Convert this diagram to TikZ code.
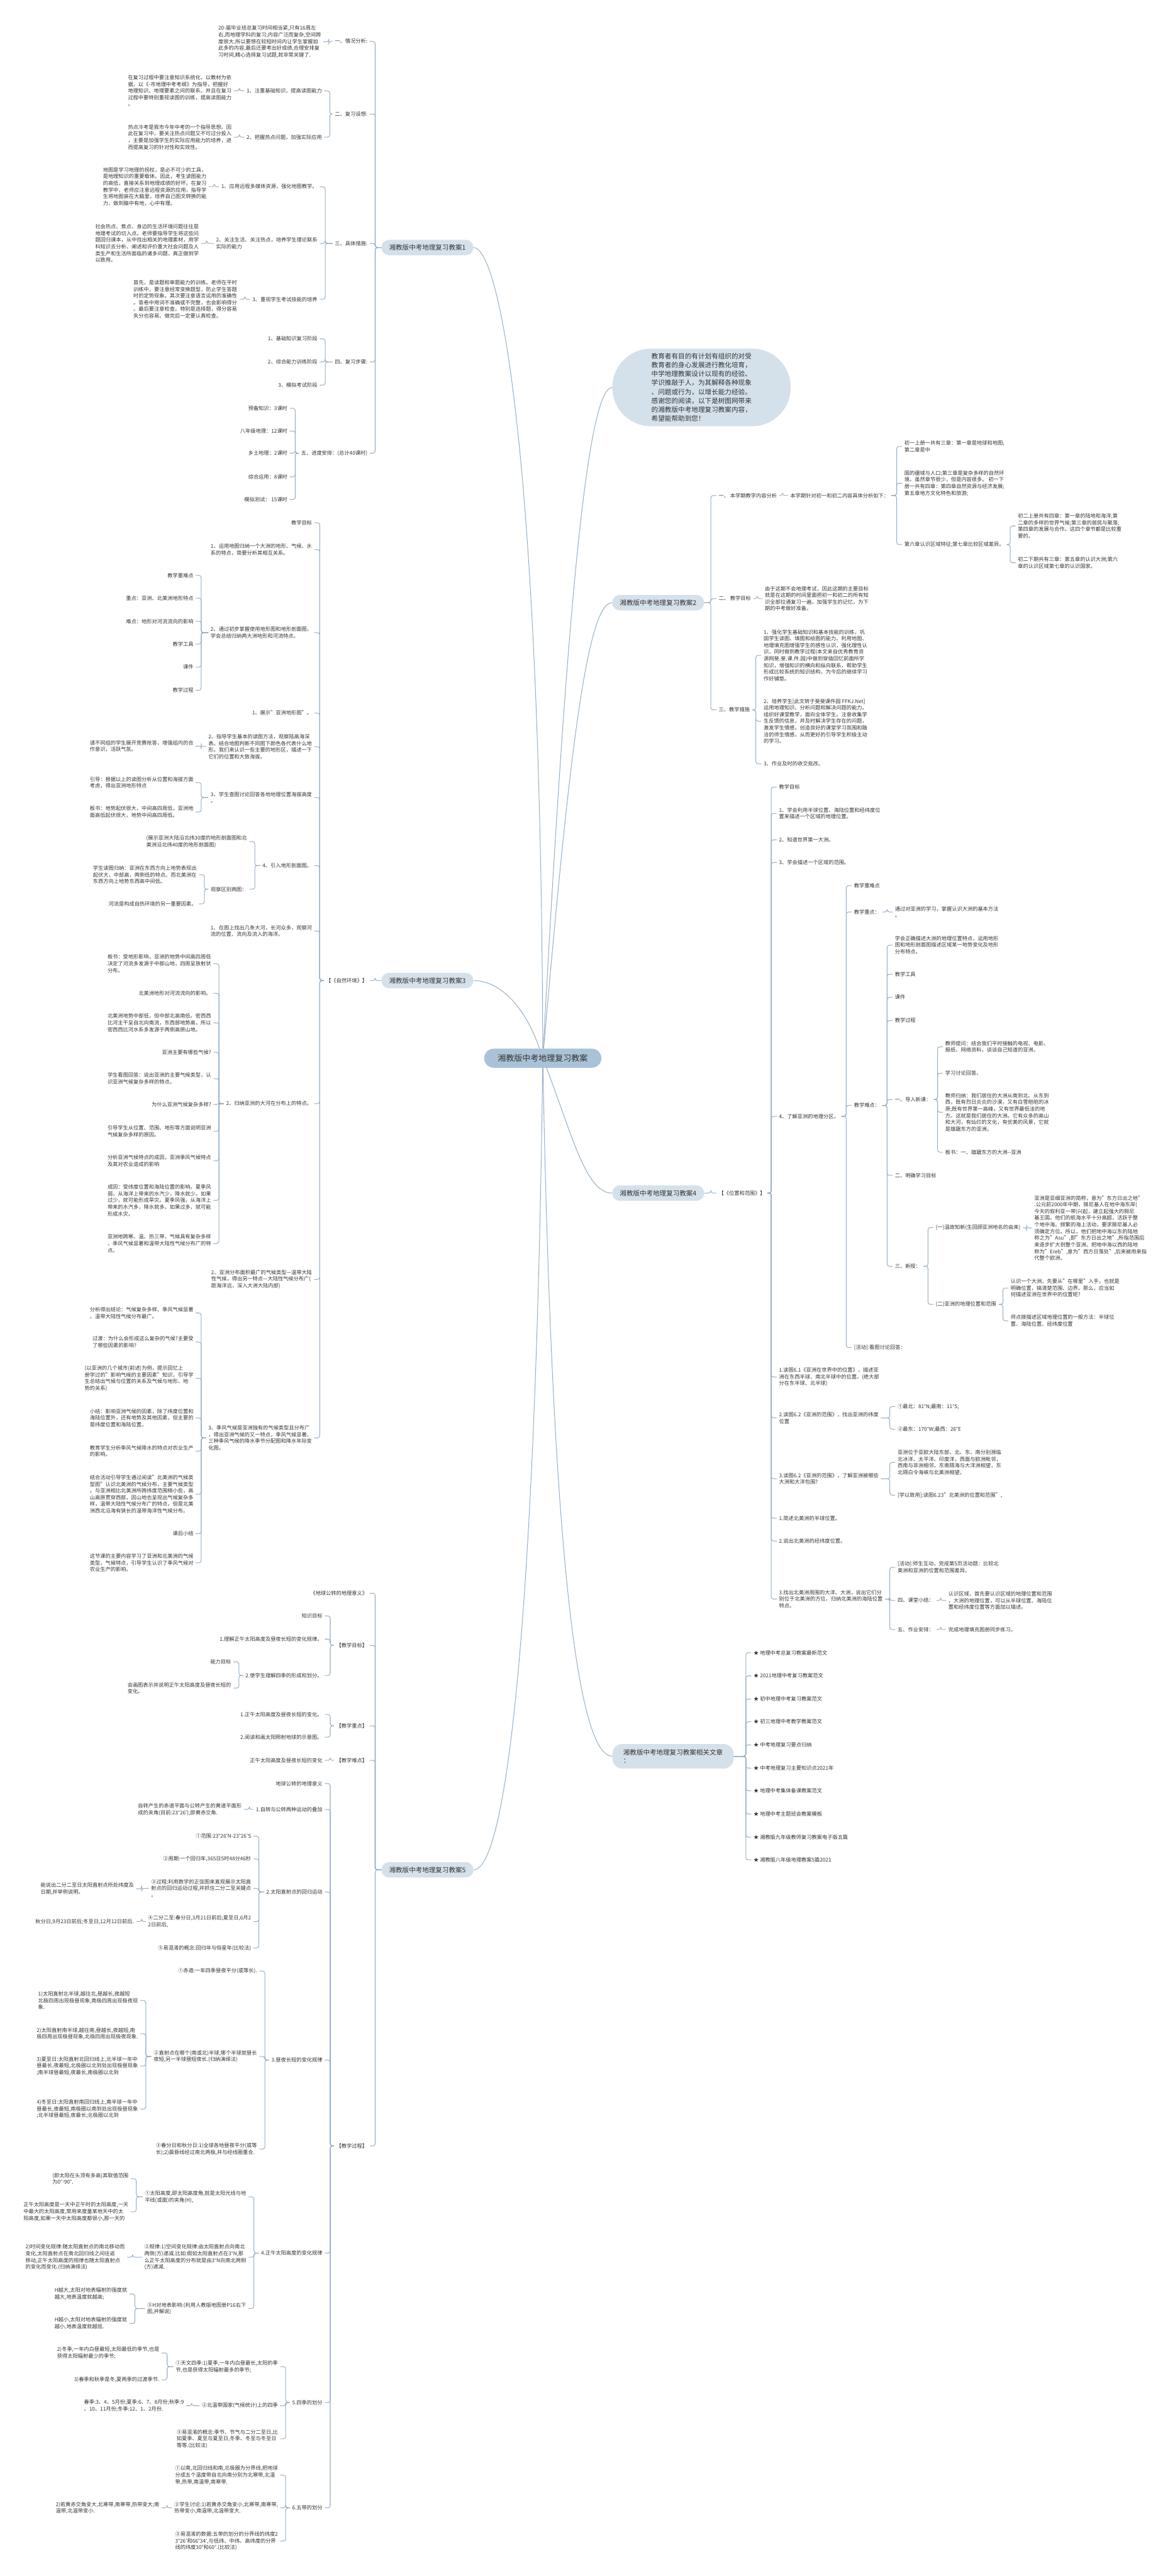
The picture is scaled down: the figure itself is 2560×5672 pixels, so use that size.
\documentclass[tikz,border=0pt]{standalone}
\usepackage{fontspec}
\setmainfont{Noto Sans CJK SC}
\usetikzlibrary{calc,backgrounds}

\definecolor{linkc}{HTML}{94AFC6}
\definecolor{topicc}{HTML}{D5E1EA}
\definecolor{rootc}{HTML}{A9C2D7}
\definecolor{inkc}{HTML}{333333}

\tikzset{
  leaf/.style={font=\fontsize{11.4}{14.7}\selectfont, text=inkc, inner xsep=5pt, inner ysep=2pt, align=left},
  lf/.style={leaf, anchor=east},
  rt/.style={leaf, anchor=west},
  topic/.style={fill=topicc, rounded corners=17pt, minimum height=34pt, inner xsep=17pt,
    font=\fontsize{14.6}{18}\selectfont, text=inkc, align=left},
  root/.style={fill=rootc, rounded corners=21pt, minimum height=42pt, inner xsep=30pt,
    font=\fontsize{18}{22}\selectfont, text=inkc},
  intro/.style={fill=topicc, rounded corners=85pt, minimum height=171pt, inner xsep=86pt,
    font=\fontsize{14.7}{19.7}\selectfont, text=inkc, align=left, anchor=west},
  link/.style={draw=linkc, line width=1.4pt, rounded corners=5pt},
  curve/.style={draw=linkc, line width=1.4pt},
}

% bracket connectors: parent on the right / on the left
\newcommand{\linkL}[2]{\draw[link] (#1.west) -- ($(#1.west -| #2.east)+(12,0)$) |- (#2.east);}
\newcommand{\linkR}[2]{\draw[link] (#1.east) -- ($(#1.east -| #2.west)+(-12,0)$) |- (#2.west);}

\begin{document}
\begin{tikzpicture}[x=1pt,y=-1pt]
\useasboundingbox (0,0) rectangle (2560,5672);

% central topic
\node[root] (root) at (1195,2330) {湘教版中考地理复习教案};

% ---------------- branch 1 ----------------
\node[topic] (b1) at (941,545) {湘教版中考地理复习教案1};
\node[lf] (b1s1) at (814,91) {一、情况分析:};
\node[lf] (b1s1p) at (712,92) {20-届毕业班总复习时间相当紧,只有16周左\\右,而地理学科的复习,内容广泛而复杂,空间跨\\度很大.所以要想在较短时间内让学生掌握如\\此多的内容,最后还要考出好成绩,合理安排复\\习时间,精心选择复习试题,就非常关键了.};
\node[lf] (b1s2) at (814,251) {二、复习设想:};
\node[lf] (b1s2a) at (714,200) {1、注重基础知识，提高读图能力};
\node[lf] (b1s2ap) at (515,200) {在复习过程中要注意知识系统化，以教材为依\\据，以《-市地理中考考纲》为指导，把握好\\地理知识、地理要素之间的联系。并且在复习\\过程中要特别重视读图的训练，提高读图能力\\。};
\node[lf] (b1s2b) at (714,302) {2、把握热点问题，加强实际应用};
\node[lf] (b1s2bp) at (515,302) {热点冷考是我市今年中考的一个指导思想。因\\此在复习中，要关注热点问题又不可过分投入\\，主要是加强学生的实际应用能力的培养，进\\而提高复习的针对性和实效性。};
\node[lf] (b1s3) at (814,536) {三、具体措施:};
\node[lf] (b1s3a) at (704,411) {1、应用远程多媒体资源，强化地图教学。};
\node[lf] (b1s3ap) at (460,411) {地图是学习地理的拐杖，是必不可少的工具，\\是地理知识的重要载体。因此，考生读图能力\\的高低，直接关系到地理成绩的好坏。在复习\\教学中，老师应注意远程资源的应用，指导学\\生将地图装在大脑里，培养自己图文转换的能\\力，做到脑中有地，心中有理。};
\node[lf] (b1s3b) at (704,536) {2、关注生活、关注热点，培养学生理论联系\\实际的能力};
\node[lf] (b1s3bp) at (443,536) {社会热点、焦点、身边的生活环境问题往往是\\地理考试的切入点。老师要指导学生将这些问\\题回归课本，从中找出相关的地理素材，用学\\科知识去分析、阐述和评价重大社会问题及人\\类生产和生活所面临的诸多问题，真正做到学\\以致用。};
\node[lf] (b1s3c) at (704,659) {3、重视学生考试技能的培养};
\node[lf] (b1s3cp) at (527,659) {首先，是读题和审题能力的训练。老师在平时\\训练中，要注意经常变换题型，防止学生答题\\时的定势现象。其次要注意语言运用的准确性\\。答卷中用词不准确或不完整，也会影响得分\\。最后要注意检查。特别是选择题，得分容易\\失分也容易。做完后一定要认真检查。};
\node[lf] (b1s4) at (814,797) {四、复习步骤:};
\node[lf] (b1s4a) at (704,746) {1、基础知识复习阶段};
\node[lf] (b1s4b) at (704,797) {2、综合能力训练阶段};
\node[lf] (b1s4c) at (704,848) {3、模拟考试阶段};
\node[lf] (b1s5) at (814,998) {五、进度安排：(总计40课时)};
\node[lf] (b1s5a) at (638,899) {预备知识：3课时};
\node[lf] (b1s5b) at (638,949) {八年级地理：12课时};
\node[lf] (b1s5c) at (638,998) {乡土地理：2课时};
\node[lf] (b1s5d) at (638,1050) {综合运用：8课时};
\node[lf] (b1s5e) at (638,1100) {模拟测试： 15课时};

\linkL{b1}{b1s1} \linkL{b1}{b1s2} \linkL{b1}{b1s3} \linkL{b1}{b1s4} \linkL{b1}{b1s5}
\linkL{b1s1}{b1s1p}
\linkL{b1s2}{b1s2a} \linkL{b1s2}{b1s2b} \linkL{b1s2a}{b1s2ap} \linkL{b1s2b}{b1s2bp}
\linkL{b1s3}{b1s3a} \linkL{b1s3}{b1s3b} \linkL{b1s3}{b1s3c}
\linkL{b1s3a}{b1s3ap} \linkL{b1s3b}{b1s3bp} \linkL{b1s3c}{b1s3cp}
\linkL{b1s4}{b1s4a} \linkL{b1s4}{b1s4b} \linkL{b1s4}{b1s4c}
\linkL{b1s5}{b1s5a} \linkL{b1s5}{b1s5b} \linkL{b1s5}{b1s5c} \linkL{b1s5}{b1s5d} \linkL{b1s5}{b1s5e}

% ---------------- branch 2 ----------------
\node[intro] (intro) at (1348,853) {教育者有目的有计划有组织的对受\\教育者的身心发展进行教化培育，\\中学地理教案设计以现有的经验、\\学识推敲于人，为其解释各种现象\\、问题或行为，以增长能力经验。\\感谢您的阅读，以下是树图网带来\\的湘教版中考地理复习教案内容，\\希望能帮助到您！};
\node[topic] (b2) at (1449,1327) {湘教版中考地理复习教案2};
\node[rt] (b2a) at (1577,1091) {一、 本学期教学内容分析};
\node[rt] (b2a1) at (1735,1091) {本学期针对初一和初二内容具体分析如下：};
\node[rt] (b2a1a) at (1986,983) {初一上册一共有三章：第一章是地球和地图;\\第二章是中};
\node[rt] (b2a1b) at (1986,1064) {国的疆域与人口;第三章是复杂多样的自然环\\境。虽然章节很少，但是内容很多。 初一下\\册一共有四章：第四章自然资源与经济发展;\\第五章地方文化特色和旅游;};
\node[rt] (b2a1c) at (1986,1199) {第六章认识区域特征;第七章比较区域差异。};
\node[rt] (b2a1c1) at (2236,1158) {初二上册共有四章：第一章的陆地和海洋;第\\二章的多样的世界气候;第三章的居民与聚落;\\第四章的发展与合作。这四个章节都是比较重\\要的。};
\node[rt] (b2a1c2) at (2236,1239) {初二下期共有三章：第五章的认识大洲;第六\\章的认识区域第七章的认识国家。};
\node[rt] (b2b) at (1577,1318) {二、 教学目标};
\node[rt] (b2b1) at (1679,1318) {由于这期不会地理考试，因此这期的主要目标\\就是在这期的时间里面把初一和初二的所有知\\识全部拉通复习一遍，加强学生的记忆，为下\\期的中考做好准备。};
\node[rt] (b2c) at (1577,1563) {三、教学措施};
\node[rt] (b2c1) at (1676,1443) {1、强化学生基础知识和基本技能的训练，巩\\固学生读图、填图和绘图的能力。利用地图、\\地理填充图增强学生的感性认识，强化理性认\\识。同时做到教学过程(本文来自优秀教育资\\源网斐.斐.课.件.园)中做到穿插回忆前面所学\\知识，增强知识的横向和纵向联系，帮助学生\\形成比较系统的知识结构，为今后的继续学习\\作好铺垫。};
\node[rt] (b2c2) at (1676,1588) {2、培养学生[此文转于斐斐课件园 FFKJ.Net]\\运用地理知识、分析问题和解决问题的能力。\\组织好课堂教学，面向全体学生。注意收集学\\生反馈的信息，并及时解决学生存在的问题，\\激发学生情感，创造良好的课堂学习氛围和融\\洽的师生情感，从而更好的引导学生积极主动\\的学习。};
\node[rt] (b2c3) at (1676,1682) {3、作业及时的收交批改。};

\linkR{b2}{b2a} \linkR{b2}{b2b} \linkR{b2}{b2c}
\linkR{b2a}{b2a1}
\linkR{b2a1}{b2a1a} \linkR{b2a1}{b2a1b} \linkR{b2a1}{b2a1c}
\linkR{b2a1c}{b2a1c1} \linkR{b2a1c}{b2a1c2}
\linkR{b2b}{b2b1}
\linkR{b2c}{b2c1} \linkR{b2c}{b2c2} \linkR{b2c}{b2c3}

% ---------------- branch 3 ----------------
\node[topic] (b3) at (941,2159) {湘教版中考地理复习教案3};
\node[lf] (b3a) at (814,2159) {【《自然环境》】};
\node[lf] (b3a1) at (692,1151) {教学目标};
\node[lf] (b3a2) at (692,1210) {1、运用地图归纳一个大洲的地形、气候、水\\系的特点，简要分析其相互关系。};
\node[lf] (b3a3) at (692,1393) {2、通过初步掌握使用地形图和地形剖面图，\\学会总结归纳两大洲地形和河流特点。};
\node[lf] (b3a3a) at (431,1267) {教学重难点};
\node[lf] (b3a3b) at (431,1317) {重点：亚洲、北美洲地形特点};
\node[lf] (b3a3c) at (431,1368) {难点：地形对河流流向的影响};
\node[lf] (b3a3d) at (431,1418) {教学工具};
\node[lf] (b3a3e) at (431,1469) {课件};
\node[lf] (b3a3f) at (431,1520) {教学过程};
\node[lf] (b3a4) at (692,1570) {1、展示"亚洲地形图"。};
\node[lf] (b3a5) at (692,1644) {2、指导学生基本的读图方法，观察陆高海深\\表。结合地图判断不同图下颜色各代表什么地\\形。我们来认识一些主要的地形区，描述一下\\它们的位置和大致海拔。};
\node[lf] (b3a5a) at (431,1643) {请不同组的学生展开竞赛抢答，增强组内的合\\作意识，活跃气氛。};
\node[lf] (b3a6) at (692,1756) {3、学生查图讨论回答各地地理位置海拔高度\\。};
\node[lf] (b3a6a) at (431,1723) {引导：根据以上的读图分析从位置和海拔方面\\考虑，得出亚洲地形特点};
\node[lf] (b3a6b) at (431,1788) {板书：地势起伏很大，中间高四周低，亚洲地\\面高低起伏很大，地势中间高四周低。};
\node[lf] (b3a7) at (692,1906) {4、引入地形剖面图。};
\node[lf] (b3a7a) at (549,1853) {(展示亚洲大陆沿北纬30度的地形剖面图和北\\美洲沿北纬40度的地形剖面图)};
\node[lf] (b3a7b) at (549,1958) {观察区别两图：};
\node[lf] (b3a7b1) at (438,1926) {学生读图归纳：亚洲在东西方向上地势表现出\\起伏大，中部高，两侧低的特点。而北美洲在\\东西方向上地势东西高中间低。};
\node[lf] (b3a7b2) at (438,1990) {河流是构成自热环境的另一重要因素。};
\node[lf] (b3a8) at (692,2050) {1、在图上找出几条大河，长河众多，观察河\\流的位置、流向及流入的海洋。};
\node[lf] (b3a9) at (692,2430) {2、归纳亚洲的大河在分布上的特点。};
\node[lf] (b3a9a) at (470,2122) {板书：受地形影响，亚洲的地势中间高四周低\\决定了河流多发源于中部山地，四周呈放射状\\分布。};
\node[lf] (b3a9b) at (470,2187) {北美洲地形对河流流向的影响。};
\node[lf] (b3a9c) at (470,2252) {北美洲地势中部低，但中部北高南低。密西西\\比河主干呈自北向南流，东西部地势高，所以\\密西西比河水系多发源于两侧高原山地。};
\node[lf] (b3a9d) at (470,2317) {亚洲主要有哪些气候?};
\node[lf] (b3a9e) at (470,2375) {学生看图回答：说出亚洲的主要气候类型，认\\识亚洲气候复杂多样的特点。};
\node[lf] (b3a9f) at (470,2432) {为什么亚洲气候复杂多样?};
\node[lf] (b3a9g) at (470,2491) {引导学生从位置、范围、地形等方面说明亚洲\\气候复杂多样的原因。};
\node[lf] (b3a9h) at (470,2556) {分析亚洲气候特点的成因，亚洲季风气候特点\\及其对农业造成的影响};
\node[lf] (b3a9i) at (470,2643) {成因：受纬度位置和海陆位置的影响。夏季风\\弱，从海洋上带来的水汽少，降水就少。如果\\过少，就可能形成旱灾。夏季风强，从海洋上\\带来的水汽多，降水就多。如果过多，就可能\\形成水灾。};
\node[lf] (b3a9j) at (470,2738) {亚洲地跨寒、温、热三带，气候具有复杂多样\\、季风气候显著和温带大陆性气候分布广的特\\点。};
\node[lf] (b3a10) at (692,2817) {2、亚洲分布面积最广的气候类型—温带大陆\\性气候，得出另一特点—大陆性气候分布广(\\距海洋远，深入大洲大陆内部)};
\node[lf] (b3a11) at (692,3166) {3、季风气候是亚洲独有的气候类型且分布广\\，得出亚洲气候的又一特点，季风气候显著，\\三种季风气候的降水季节分配图和降水年际变\\化图。};
\node[lf] (b3a11a) at (431,2891) {分析得出结论：气候复杂多样、季风气候显著\\、温带大陆性气候分布最广。};
\node[lf] (b3a11b) at (431,2955) {过渡：为什么会形成这么复杂的气候?主要受\\了哪些因素的影响?};
\node[lf] (b3a11c) at (431,3035) {(以亚洲的几个城市(前述)为例，提示回忆上\\册学过的"影响气候的主要因素"知识，引导学\\生总结出气候与位置的关系及气候与地形、地\\势的关系)};
\node[lf] (b3a11d) at (431,3122) {小结：影响亚洲气候的因素，除了纬度位置和\\海陆位置外，还有地势及其他因素，但主要的\\是纬度位置和海陆位置。};
\node[lf] (b3a11e) at (431,3195) {教育学生分析季风气候降水的特点对农业生产\\的影响。};
\node[lf] (b3a11f) at (431,3290) {结合活动引导学生通过阅读"北美洲的气候类\\型图"认识北美洲的气候分布，主要气候类型\\。与亚洲相比北美洲所跨纬度范围稍小些，高\\山高原贯穿西部，因山地也呈现出气候复杂多\\样，温带大陆性气候分布广的特点，但是北美\\洲西北沿海有狭长的温带海洋性气候分布。};
\node[lf] (b3a11g) at (431,3377) {课后小结};
\node[lf] (b3a11h) at (431,3441) {这节课的主要内容学习了亚洲和北美洲的气候\\类型，气候特点，引导学生认识了季风气候对\\农业生产的影响。};

\linkL{b3}{b3a}
\linkL{b3a}{b3a1} \linkL{b3a}{b3a2} \linkL{b3a}{b3a3} \linkL{b3a}{b3a4} \linkL{b3a}{b3a5} \linkL{b3a}{b3a6}
\linkL{b3a}{b3a7} \linkL{b3a}{b3a8} \linkL{b3a}{b3a9} \linkL{b3a}{b3a10} \linkL{b3a}{b3a11}
\linkL{b3a3}{b3a3a} \linkL{b3a3}{b3a3b} \linkL{b3a3}{b3a3c} \linkL{b3a3}{b3a3d} \linkL{b3a3}{b3a3e} \linkL{b3a3}{b3a3f}
\linkL{b3a5}{b3a5a}
\linkL{b3a6}{b3a6a} \linkL{b3a6}{b3a6b}
\linkL{b3a7}{b3a7a} \linkL{b3a7}{b3a7b} \linkL{b3a7b}{b3a7b1} \linkL{b3a7b}{b3a7b2}
\linkL{b3a9}{b3a9a} \linkL{b3a9}{b3a9b} \linkL{b3a9}{b3a9c} \linkL{b3a9}{b3a9d} \linkL{b3a9}{b3a9e}
\linkL{b3a9}{b3a9f} \linkL{b3a9}{b3a9g} \linkL{b3a9}{b3a9h} \linkL{b3a9}{b3a9i} \linkL{b3a9}{b3a9j}
\linkL{b3a11}{b3a11a} \linkL{b3a11}{b3a11b} \linkL{b3a11}{b3a11c} \linkL{b3a11}{b3a11d}
\linkL{b3a11}{b3a11e} \linkL{b3a11}{b3a11f} \linkL{b3a11}{b3a11g} \linkL{b3a11}{b3a11h}

% ---------------- branch 4 ----------------
\node[topic] (b4) at (1449,2627) {湘教版中考地理复习教案4};
\node[rt] (b4a) at (1577,2627) {【《位置和范围》】};
\node[rt] (b4a1) at (1710,1733) {教学目标};
\node[rt] (b4a2) at (1710,1791) {1、学会利用半球位置、海陆位置和经纬度位\\置来描述一个区域的地理位置。};
\node[rt] (b4a3) at (1710,1849) {2、知道世界第一大洲。};
\node[rt] (b4a4) at (1710,1899) {3、学会描述一个区域的范围。};
\node[rt] (b4a5) at (1710,2458) {4、了解亚洲的地理分区。};
\node[rt] (b4a5a) at (1875,1950) {教学重难点};
\node[rt] (b4a5b) at (1875,2008) {教学重点：};
\node[rt] (b4a5b1) at (1965,2008) {通过对亚洲的学习，掌握认识大洲的基本方法\\。};
\node[rt] (b4a5c) at (1875,2434) {教学难点：};
\node[rt] (b4a5c1) at (1965,2081) {学会正确描述大洲的地理位置特点，运用地形\\图和地形剖面图描述区域某一地势变化及地形\\分布特点。};
\node[rt] (b4a5c2) at (1965,2145) {教学工具};
\node[rt] (b4a5c3) at (1965,2196) {课件};
\node[rt] (b4a5c4) at (1965,2247) {教学过程};
\node[rt] (b4a5c5) at (1965,2421) {一、导入新课：};
\node[rt] (b4a5c5a) at (2076,2305) {教师提问：结合我们平时接触的电视、电影、\\报纸、网络资料，谈谈自己知道的亚洲。};
\node[rt] (b4a5c5b) at (2076,2363) {学习讨论回答。};
\node[rt] (b4a5c5c) at (2076,2449) {教师归纳：我们居住的大洲从南到北、从东到\\西，既有烈日炎炎的沙漠，又有白雪皑皑的冰\\原;既有世界第一高峰，又有世界最低洼的地\\方。这就是我们居住的大洲。它有众多的高山\\和大河，有灿烂的文化，有优美的风景，它就\\是雄踞东方的亚洲。};
\node[rt] (b4a5c5d) at (2076,2537) {板书：一、雄踞东方的大洲-{}-亚洲};
\node[rt] (b4a5c6) at (1965,2588) {二、明确学习目标};
\node[rt] (b4a5c7) at (1965,2788) {三、新授：};
\node[rt] (b4a5c7a) at (2055,2703) {(一)温故知新(生回顾亚洲地名的由来)};
\node[rt] (b4a5c7a1) at (2272,2704) {亚洲是亚细亚洲的简称，意为"东方日出之地"\\.公元前2000年中期，腓尼基人在地中海东岸(\\今天的叙利亚一带)兴起，建立起强大的腓尼\\基王国。他们的航海水平十分高超，活跃于整\\个地中海。频繁的海上活动，要求腓尼基人必\\须确定方位。所以，他们把地中海以东的陆地\\称之为"Asu",即"东方日出之地",所指范围后\\来逐步扩大到整个亚洲。把地中海以西的陆地\\称为"Ereb",意为"西方日落处",后来被用来指\\代整个欧洲。};
\node[rt] (b4a5c7b) at (2055,2872) {(二)亚洲的地理位置和范围};
\node[rt] (b4a5c7b1) at (2220,2836) {认识一个大洲，先要从"在哪里"入手，也就是\\明确位置，搞清楚范围、边界。那么，应当如\\何描述亚洲在世界中的位置呢?};
\node[rt] (b4a5c7b2) at (2220,2908) {师点拨描述区域地理位置的一般方法：半球位\\置、海陆位置、经纬度位置};
\node[rt] (b4a5d) at (1875,2967) {[活动]:看图讨论回答：};
\node[rt] (b4a6) at (1710,3032) {1.读图6.1《亚洲在世界中的位置》，描述亚\\洲在东西半球、南北半球中的位置。(绝大部\\分在东半球、北半球)};
\node[rt] (b4a7) at (1710,3122) {2.读图6.2《亚洲的范围》，找出亚洲的纬度\\位置};
\node[rt] (b4a7a) at (1971,3097) {①最北：81°N;最南：11°S;};
\node[rt] (b4a7b) at (1971,3147) {②最东：170°W;最西：26°E};
\node[rt] (b4a8) at (1710,3256) {3.读图6.2《亚洲的范围》，了解亚洲被哪些\\大洲和大洋包围?};
\node[rt] (b4a8a) at (1971,3220) {亚洲位于亚欧大陆东部，北、东、南分别濒临\\北冰洋、太平洋、印度洋，西面与欧洲毗邻，\\西南与非洲相邻，东南隔海与大洋洲相望，东\\北隔白令海峡与北美洲相望。};
\node[rt] (b4a8b) at (1971,3292) {[学以致用]:读图6.23"北美洲的位置和范围",};
\node[rt] (b4a9) at (1710,3343) {1.简述北美洲的半球位置。};
\node[rt] (b4a10) at (1710,3393) {2.说出北美洲的经纬度位置。};
\node[rt] (b4a11) at (1710,3521) {3.找出北美洲周围的大洋、大洲，说出它们分\\别位于北美洲的方位，归纳北美洲的海陆位置\\特点。};
\node[rt] (b4a11a) at (1971,3451) {[活动]:师生互动，完成第5页活动题：比较北\\美洲和亚洲的位置和范围差异。};
\node[rt] (b4a11b) at (1971,3524) {四、课堂小结：};
\node[rt] (b4a11b1) at (2083,3524) {认识区域，首先要认识区域的地理位置和范围\\，大洲的地理位置，可以从半球位置、海陆位\\置和经纬度位置等方面加以描述。};
\node[rt] (b4a11c) at (1971,3588) {五、作业安排：};
\node[rt] (b4a11c1) at (2083,3588) {完成地理填充图册同步练习。};

\linkR{b4}{b4a}
\linkR{b4a}{b4a1} \linkR{b4a}{b4a2} \linkR{b4a}{b4a3} \linkR{b4a}{b4a4} \linkR{b4a}{b4a5} \linkR{b4a}{b4a6}
\linkR{b4a}{b4a7} \linkR{b4a}{b4a8} \linkR{b4a}{b4a9} \linkR{b4a}{b4a10} \linkR{b4a}{b4a11}
\linkR{b4a5}{b4a5a} \linkR{b4a5}{b4a5b} \linkR{b4a5}{b4a5c} \linkR{b4a5}{b4a5d}
\linkR{b4a5b}{b4a5b1}
\linkR{b4a5c}{b4a5c1} \linkR{b4a5c}{b4a5c2} \linkR{b4a5c}{b4a5c3} \linkR{b4a5c}{b4a5c4}
\linkR{b4a5c}{b4a5c5} \linkR{b4a5c}{b4a5c6} \linkR{b4a5c}{b4a5c7}
\linkR{b4a5c5}{b4a5c5a} \linkR{b4a5c5}{b4a5c5b} \linkR{b4a5c5}{b4a5c5c} \linkR{b4a5c5}{b4a5c5d}
\linkR{b4a5c7}{b4a5c7a} \linkR{b4a5c7}{b4a5c7b} \linkR{b4a5c7a}{b4a5c7a1}
\linkR{b4a5c7b}{b4a5c7b1} \linkR{b4a5c7b}{b4a5c7b2}
\linkR{b4a7}{b4a7a} \linkR{b4a7}{b4a7b} \linkR{b4a8}{b4a8a} \linkR{b4a8}{b4a8b}
\linkR{b4a11}{b4a11a} \linkR{b4a11}{b4a11b} \linkR{b4a11}{b4a11c}
\linkR{b4a11b}{b4a11b1} \linkR{b4a11c}{b4a11c1}

% ---------------- related articles ----------------
\node[topic, anchor=west, rounded corners=22pt, minimum height=54pt, inner xsep=24pt] (rel) at (1348,3867) {湘教版中考地理复习教案相关文章\\：};
\node[rt] (rel1) at (1654,3639) {★ 地理中考总复习教案最新范文};
\node[rt] (rel2) at (1654,3690) {★ 2021地理中考复习教案范文};
\node[rt] (rel3) at (1654,3741) {★ 初中地理中考复习教案范文};
\node[rt] (rel4) at (1654,3791) {★ 初三地理中考教学教案范文};
\node[rt] (rel5) at (1654,3842) {★ 中考地理复习要点归纳};
\node[rt] (rel6) at (1654,3893) {★ 中考地理复习主要知识点2021年};
\node[rt] (rel7) at (1654,3943) {★ 地理中考集体备课教案范文};
\node[rt] (rel8) at (1654,3994) {★ 地理中考主题班会教案模板};
\node[rt] (rel9) at (1654,4045) {★ 湘教版九年级教师复习教案电子版五篇};
\node[rt] (rel10) at (1654,4095) {★ 湘教版八年级地理教案5篇2021};

\linkR{rel}{rel1} \linkR{rel}{rel2} \linkR{rel}{rel3} \linkR{rel}{rel4} \linkR{rel}{rel5}
\linkR{rel}{rel6} \linkR{rel}{rel7} \linkR{rel}{rel8} \linkR{rel}{rel9} \linkR{rel}{rel10}

% ---------------- branch 5 ----------------
\node[topic] (b5) at (941,4117) {湘教版中考地理复习教案5};
\node[lf] (b5a) at (814,3508) {《地球公转的地理意义》};
\node[lf] (b5b) at (814,3623) {【教学目标】};
\node[lf] (b5b1) at (715,3558) {知识目标};
\node[lf] (b5b2) at (715,3609) {1.理解正午太阳高度及昼夜长短的变化规律。};
\node[lf] (b5b3) at (715,3689) {2.使学生理解四季的形成和划分。};
\node[lf] (b5b3a) at (514,3659) {能力目标};
\node[lf] (b5b3b) at (514,3717) {会画图表示并说明正午太阳高度及昼夜长短的\\变化。};
\node[lf] (b5c) at (814,3800) {【教学重点】};
\node[lf] (b5c1) at (715,3775) {1.正午太阳高度及昼夜长短的变化。};
\node[lf] (b5c2) at (715,3825) {2.阅读和画太阳照射地球的示意图。};
\node[lf] (b5d) at (814,3876) {【教学难点】};
\node[lf] (b5d1) at (715,3876) {正午太阳高度及昼夜长短的变化};
\node[lf] (b5e) at (814,4725) {【教学过程】};
\node[lf] (b5e1) at (715,3927) {地球公转的地理意义};
\node[lf] (b5e2) at (715,3984) {1.自转与公转两种运动的叠加};
\node[lf] (b5e2a) at (537,3984) {自转产生的赤道平面与公转产生的黄道平面形\\成的夹角(目前:23°26′),即黄赤交角.};
\node[lf] (b5e3) at (715,4166) {2.太阳直射点的回归运动};
\node[lf] (b5e3a) at (558,4043) {①范围:23°26′N-23°26′S};
\node[lf] (b5e3b) at (558,4093) {②周期:一个回归年,365日5时48分46秒};
\node[lf] (b5e3c) at (558,4158) {③过程:利用数学的正弦图来直观展示太阳直\\射点的回归运动过程,并抓住二分二至关键点\\。};
\node[lf] (b5e3c1) at (300,4159) {能说出二分二至日太阳直射点所处纬度及\\日期,并举例说明。};
\node[lf] (b5e3d) at (558,4231) {④二分二至:春分日,3月21日前后;夏至日,6月2\\2日前后,};
\node[lf] (b5e3d1) at (300,4231) {秋分日,9月23日前后;冬至日,12月12日前后.};
\node[lf] (b5e3e) at (558,4289) {⑤易混淆的概念:回归年与恒星年(比较法)};
\node[lf] (b5e4) at (715,4536) {3.昼夜长短的变化规律};
\node[lf] (b5e4a) at (571,4340) {①赤道:一年四季昼夜平分(或等长).};
\node[lf] (b5e4b) at (571,4528) {②直射点在哪个(南或北)半球,哪个半球就昼长\\夜短,另一半球昼短夜长.(归纳演绎法)};
\node[lf] (b5e4b1) at (309,4405) {1)太阳直射北半球,越往北,昼越长,夜越短\\北极四周出现极昼现象,南极四周出现极夜现\\象.};
\node[lf] (b5e4b2) at (309,4478) {2)太阳直射南半球,越往南,昼越长,夜越短,南\\极四周出现极昼现象,北极四周出现极夜现象.};
\node[lf] (b5e4b3) at (309,4549) {3)夏至日:太阳直射北回归线上,北半球一年中\\昼最长,夜最短,北极圈以北到处出现极昼现象\\;南半球昼最短,夜最长,南极圈以北到};
\node[lf] (b5e4b4) at (309,4644) {4)冬至日:太阳直射南回归线上,南半球一年中\\昼最长,夜最短,南极圈以南到处出现极昼现象\\;北半球昼最短,夜最长;北极圈以北到};
\node[lf] (b5e4c) at (571,4732) {③春分日和秋分日:1)全球各地昼夜平分(或等\\长);2)晨昏线经过南北两极,并与经线圈重合.};
\node[lf] (b5e5) at (715,4961) {4.正午太阳高度的变化规律};
\node[lf] (b5e5a) at (547,4837) {①太阳高度,即太阳高度角,就是太阳光线与地\\平线(或面)的夹角(H),};
\node[lf] (b5e5a1) at (288,4797) {(即太阳在头顶有多高)其取值范围\\为0°-90°.};
\node[lf] (b5e5a2) at (288,4870) {正午太阳高度是一天中正午时的太阳高度,一天\\中最大的太阳高度,常用来度量某地天中的太\\阳高度,如果一天中太阳高度都很小,那一天的};
\node[lf] (b5e5b) at (547,4970) {②规律:1)空间变化规律:由太阳直射点向南北\\两侧(方)递减.比如:假如太阳直射点在3°N,那\\么正午太阳高度的分布就是由3°N向南北两侧\\(方)递减.};
\node[lf] (b5e5b1) at (280,4970) {2)时间变化规律:随太阳直射点的南北移动而\\变化,太阳直射点在南北回归线之间往返\\移动,正午太阳高度的规律也随太阳直射点\\的变化而变化.(归纳演绎法)};
\node[lf] (b5e5c) at (547,5083) {③H对地表影响:(利用人教版地图册P16右下\\图,并解说)};
\node[lf] (b5e5c1) at (285,5051) {H越大,太阳对地表辐射的强度就\\越大,地表温度就越高;};
\node[lf] (b5e5c2) at (285,5116) {H越小,太阳对地表辐射的强度就\\越小,地表温度就越低.};
\node[lf] (b5e6) at (715,5290) {5.四季的划分};
\node[lf] (b5e6a) at (617,5211) {①天文四季:1)夏季,一年内白昼最长,太阳的季\\节,也是获得太阳辐射最多的季节;};
\node[lf] (b5e6a1) at (356,5181) {2)冬季,一年内白昼最短,太阳最低的季节,也是\\获得太阳辐射最少的季节;};
\node[lf] (b5e6a2) at (356,5240) {3)春季和秋季是冬,夏两季的过渡季节.};
\node[lf] (b5e6b) at (617,5297) {②北温带国家(气候统计)上的四季};
\node[lf] (b5e6b1) at (410,5297) {春季:3、4、5月份;夏季:6、7、8月份;秋季:9\\、10、11月份;冬季:12、1、2月份.};
\node[lf] (b5e6c) at (617,5370) {③易混淆的概念:季节、节气与二分二至日,比\\如夏季、夏至与夏至日,冬季、冬至与冬至日\\等等.(比较法)};
\node[lf] (b5e7) at (715,5522) {6.五带的划分};
\node[lf] (b5e7a) at (617,5450) {①以南,北回归线和南,北极圈为分界线,把地球\\分成五个温度带自北向南分别为北寒带,北温\\带,热带,南温带,南寒带.};
\node[lf] (b5e7b) at (617,5522) {②学生讨论:1)若黄赤交角变小,北寒带,南寒带,\\热带变小,南温带,北温带变大.};
\node[lf] (b5e7b1) at (356,5522) {2)若黄赤交角变大,北寒带,南寒带,热带变大;南\\温带,北温带变小.};
\node[lf] (b5e7c) at (617,5595) {③易混淆的数据:五带的划分的分界线的纬度2\\3°26′和66°34′,与低纬、中纬、高纬度的分界\\线的纬度30°和60°.(比较法)};

\linkL{b5}{b5a} \linkL{b5}{b5b} \linkL{b5}{b5c} \linkL{b5}{b5d} \linkL{b5}{b5e}
\linkL{b5b}{b5b1} \linkL{b5b}{b5b2} \linkL{b5b}{b5b3} \linkL{b5b3}{b5b3a} \linkL{b5b3}{b5b3b}
\linkL{b5c}{b5c1} \linkL{b5c}{b5c2} \linkL{b5d}{b5d1}
\linkL{b5e}{b5e1} \linkL{b5e}{b5e2} \linkL{b5e}{b5e3} \linkL{b5e}{b5e4} \linkL{b5e}{b5e5} \linkL{b5e}{b5e6} \linkL{b5e}{b5e7}
\linkL{b5e2}{b5e2a}
\linkL{b5e3}{b5e3a} \linkL{b5e3}{b5e3b} \linkL{b5e3}{b5e3c} \linkL{b5e3}{b5e3d} \linkL{b5e3}{b5e3e}
\linkL{b5e3c}{b5e3c1} \linkL{b5e3d}{b5e3d1}
\linkL{b5e4}{b5e4a} \linkL{b5e4}{b5e4b} \linkL{b5e4}{b5e4c}
\linkL{b5e4b}{b5e4b1} \linkL{b5e4b}{b5e4b2} \linkL{b5e4b}{b5e4b3} \linkL{b5e4b}{b5e4b4}
\linkL{b5e5}{b5e5a} \linkL{b5e5}{b5e5b} \linkL{b5e5}{b5e5c}
\linkL{b5e5a}{b5e5a1} \linkL{b5e5a}{b5e5a2} \linkL{b5e5b}{b5e5b1} \linkL{b5e5c}{b5e5c1} \linkL{b5e5c}{b5e5c2}
\linkL{b5e6}{b5e6a} \linkL{b5e6}{b5e6b} \linkL{b5e6}{b5e6c}
\linkL{b5e6a}{b5e6a1} \linkL{b5e6a}{b5e6a2} \linkL{b5e6b}{b5e6b1}
\linkL{b5e7}{b5e7a} \linkL{b5e7}{b5e7b} \linkL{b5e7}{b5e7c} \linkL{b5e7b}{b5e7b1}

% main curves from the central topic
\begin{scope}[on background layer]
\fill[white] (0,0) rectangle (2560,5672);
\draw[curve] (root) .. controls (1190,1000) and (1100,545) .. (b1.east);
\draw[curve] (root) .. controls (1245,1400) and (1290,853) .. (intro.west);
\draw[curve] (root) .. controls (1250,1700) and (1290,1327) .. (b2.west);
\draw[curve] (root) .. controls (1150,2200) and (1090,2159) .. (b3.east);
\draw[curve] (root) .. controls (1260,2500) and (1290,2627) .. (b4.west);
\draw[curve] (root) .. controls (1215,3400) and (1270,3867) .. (rel.west);
\draw[curve] (root) .. controls (1180,3500) and (1120,4117) .. (b5.east);
\end{scope}
\end{tikzpicture}
\end{document}
